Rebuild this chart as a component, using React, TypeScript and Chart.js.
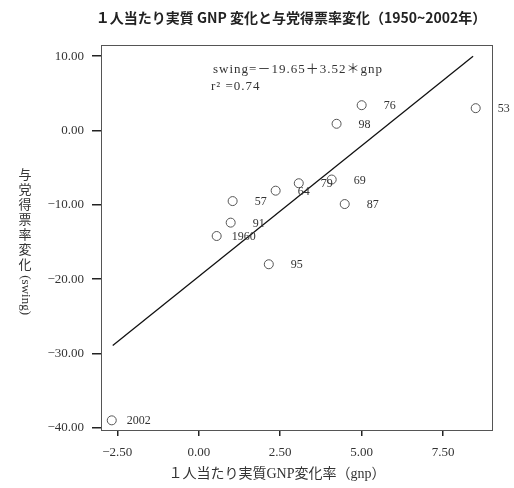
import React, { useEffect, useRef } from "react";
import { Chart, registerables } from "chart.js";
Chart.register(...registerables);

// ---- data ----
const years = ["53", "57", "1960", "64", "69", "76", "79", "87", "91", "95", "98", "2002"];
const gnp = [8.5, 1.04, 0.55, 2.36, 4.08, 5.0, 3.07, 4.48, 0.98, 2.15, 4.23, -2.67];
const swing = [3.0, -9.5, -14.2, -8.1, -6.6, 3.4, -7.1, -9.9, -12.4, -18.0, 0.9, -39.0];
const fitIntercept = -19.65;
const fitSlope = 3.52;
const fitX = [-2.64, 8.42];
const xTicks = [-2.5, 0, 2.5, 5, 7.5];
const xTickLabels = ["−2.50", "0.00", "2.50", "5.00", "7.50"];
const yTicks = [10, 0, -10, -20, -30, -40];
const yTickLabels = ["10.00", "0.00", "−10.00", "−20.00", "−30.00", "−40.00"];
const titleText = "１人当たり実質 GNP 変化と与党得票率変化（1950~2002年）";
const xTitleText = "１人当たり実質GNP変化率（gnp）";
const yTitleCjk = "与党得票率変化";
const yTitleLatin = " (swing)";
const equationText = "swing=－19.65＋3.52＊gnp";
const rSquaredText = "r² =0.74";

const SERIF = '"Liberation Serif", "DejaVu Serif", "Noto Sans CJK JP", serif';
const CJK = '"Noto Sans CJK JP", "Noto Sans", sans-serif';

const annotations = {
  id: "annotations",
  afterDraw(chart: any) {
    const ctx = chart.ctx as CanvasRenderingContext2D;
    const a = chart.chartArea;
    ctx.save();
    // frame
    ctx.strokeStyle = "#555";
    ctx.lineWidth = 1;
    ctx.strokeRect(a.left + 0.5, a.top + 0.5, a.right - a.left, a.bottom - a.top);

    // point labels
    const meta = chart.getDatasetMeta(0);
    ctx.fillStyle = "#333";
    ctx.font = `12px ${SERIF}`;
    ctx.textAlign = "left";
    ctx.textBaseline = "middle";
    meta.data.forEach((el: any, i: number) => {
      const lab = years[i];
      const off = lab.length > 2 ? 15 : 22;
      ctx.fillText(lab, el.x + off, el.y + 1);
    });

    // equation
    ctx.font = `13px ${SERIF}`;
    (ctx as any).letterSpacing = "1px";
    ctx.fillText(equationText, a.left + 112, a.top + 25);
    ctx.fillText(rSquaredText, a.left + 110, a.top + 42);
    (ctx as any).letterSpacing = "0px";

    // title
    ctx.font = `bold 14px ${CJK}`;
    ctx.fillStyle = "#222";
    ctx.textAlign = "center";
    ctx.fillText(titleText, 291, 18);

    // x title
    ctx.font = `14px ${SERIF}`;
    ctx.fillStyle = "#333";
    ctx.fillText(xTitleText, 277, 474);

    // y title (vertical writing)
    const cx = 25;
    let y = 167;
    ctx.font = `13px ${CJK}`;
    ctx.textAlign = "center";
    for (const ch of yTitleCjk) {
      ctx.fillText(ch, cx, y + 7);
      y += 15;
    }
    ctx.save();
    ctx.translate(cx, y);
    ctx.rotate(Math.PI / 2);
    ctx.font = `13px ${SERIF}`;
    ctx.textAlign = "left";
    ctx.textBaseline = "middle";
    ctx.fillText(yTitleLatin, 0, 0);
    ctx.restore();

    ctx.restore();
  },
};

export default function App() {
  const ref = useRef<HTMLCanvasElement | null>(null);
  useEffect(() => {
    document.body.style.margin = "0";
    if (!ref.current) return;
    const chart = new Chart(ref.current, {
      type: "scatter",
      data: {
        datasets: [
          {
            type: "scatter",
            data: gnp.map((x, i) => ({ x, y: swing[i] })),
            pointStyle: "circle",
            pointRadius: 4.5,
            pointBorderWidth: 1,
            borderColor: "#555",
            backgroundColor: "rgba(255,255,255,0)",
          },
          {
            type: "line",
            data: fitX.map((x) => ({ x, y: fitIntercept + fitSlope * x })),
            borderColor: "#111",
            borderWidth: 1.3,
            pointRadius: 0,
            fill: false,
          } as any,
        ],
      },
      options: {
        responsive: false,
        animation: false,
        layout: { padding: { left: 0, top: 45, right: 22, bottom: 0 } },
        plugins: {
          legend: { display: false },
          tooltip: { enabled: false },
        },
        scales: {
          x: {
            type: "linear",
            min: -3,
            max: 9,
            afterBuildTicks: (s: any) => {
              s.ticks = xTicks.map((v) => ({ value: v }));
            },
            afterFit: (s: any) => {
              s.height = 58;
            },
            ticks: {
              callback: (_v: any, i: number) => xTickLabels[i],
              font: { family: SERIF, size: 13 },
              color: "#333",
              padding: 9,
              maxRotation: 0,
            },
            grid: {
              drawOnChartArea: false,
              drawTicks: true,
              tickLength: 6,
              color: "#222",
              lineWidth: 1.5,
            },
            border: { display: true, color: "#555", width: 1 },
          },
          y: {
            type: "linear",
            min: -40.3,
            max: 11.5,
            afterBuildTicks: (s: any) => {
              s.ticks = yTicks.map((v) => ({ value: v }));
            },
            afterFit: (s: any) => {
              s.width = 101;
            },
            ticks: {
              callback: (_v: any, i: number) => yTickLabels[i],
              font: { family: SERIF, size: 13 },
              color: "#333",
              padding: 8,
            },
            grid: {
              drawOnChartArea: false,
              drawTicks: true,
              tickLength: 9,
              color: "#222",
              lineWidth: 1.5,
            },
            border: { display: true, color: "#555", width: 1 },
          },
        },
      },
      plugins: [annotations],
    });
    return () => chart.destroy();
  }, []);
  return (
    <div style={{ width: 514, height: 488, background: "#fff" }}>
      <canvas ref={ref} width={514} height={488} style={{ display: "block" }} />
    </div>
  );
}
